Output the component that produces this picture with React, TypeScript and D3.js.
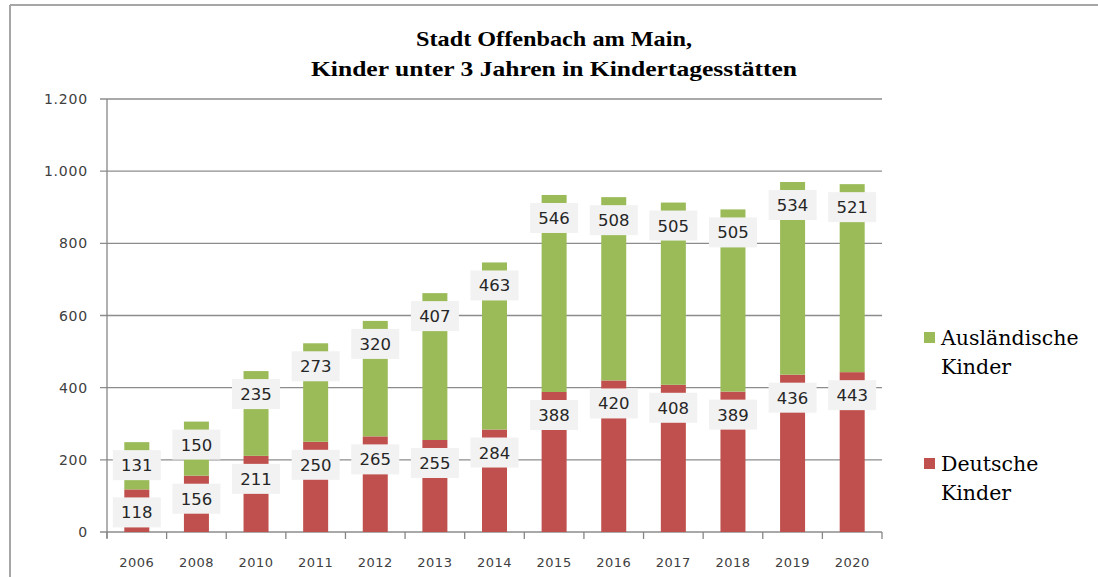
import * as d3 from "d3";

const years = ["2006", "2008", "2010", "2011", "2012", "2013", "2014", "2015", "2016", "2017", "2018", "2019", "2020"];
const deutsche = [118, 156, 211, 250, 265, 255, 284, 388, 420, 408, 389, 436, 443];
const auslaendische = [131, 150, 235, 273, 320, 407, 463, 546, 508, 505, 505, 534, 521];
const yTicks = [0, 200, 400, 600, 800, 1000, 1200];
const titleLines = ["Stadt Offenbach am Main,", "Kinder unter 3 Jahren in Kindertagesstätten"];

const RED = "#c0504d";
const GREEN = "#9bbb59";

export default function App() {
  const width = 1098;
  const height = 577;
  const left = 107;
  const right = 882;
  const top = 99;
  const bottom = 532;

  const x = d3.scaleBand<string>().domain(years).range([left, right]).paddingInner(0).paddingOuter(0);
  const y = d3.scaleLinear().domain([0, 1200]).range([bottom, top]);
  const fmt = (v: number) => d3.format(",")(v).replace(/,/g, ".");
  const barW = 25;

  const stacked = years.map((yr, i) => ({
    yr,
    segs: [
      { key: "d", v0: 0, v1: deutsche[i], val: deutsche[i], color: RED },
      { key: "a", v0: deutsche[i], v1: deutsche[i] + auslaendische[i], val: auslaendische[i], color: GREEN },
    ],
  }));

  const boundaries = [...years.map((yr) => x(yr)!), right];

  return (
    <svg width={width} height={height} style={{ display: "block", position: "absolute", left: 0, top: 0 }}>
      <rect x={0} y={0} width={width} height={height} fill="#fff" />
      {/* frame */}
      <line x1={10} x2={width} y1={5} y2={5} stroke="#a6a6a6" strokeWidth={2} />
      <line x1={10} x2={10} y1={5} y2={height} stroke="#a6a6a6" strokeWidth={2} />

      {/* title */}
      {titleLines.map((t, i) => (
        <text key={t} x={554} y={46 + i * 30} textAnchor="middle" fontFamily="Liberation Serif" fontWeight="bold"
          fontSize={22} fill="#000" textLength={i === 0 ? 276 : 486} lengthAdjust="spacingAndGlyphs">{t}</text>
      ))}

      {/* grid + y ticks */}
      {yTicks.map((t) => (
        <g key={t}>
          <line x1={100} x2={right} y1={y(t)} y2={y(t)} stroke="#8c8c8c" strokeWidth={1.3} />
          <text x={88} y={y(t) + 5} textAnchor="end" fontFamily="DejaVu Sans" fontSize={14} letterSpacing={0.8} fill="#404040">{fmt(t)}</text>
        </g>
      ))}
      <line x1={left} x2={left} y1={top} y2={bottom + 6} stroke="#868686" strokeWidth={1.3} />
      {boundaries.map((b, i) => (
        <line key={i} x1={b} x2={b} y1={bottom} y2={bottom + 7} stroke="#868686" strokeWidth={1.3} />
      ))}

      {/* x labels */}
      {years.map((yr) => (
        <text key={yr} x={x(yr)! + x.bandwidth() / 2} y={567} textAnchor="middle" fontFamily="DejaVu Sans" fontSize={13} letterSpacing={0.5} fill="#404040">{yr}</text>
      ))}

      {/* bars */}
      {stacked.map((s) => (
        <g key={s.yr}>
          {s.segs.map((seg) => (
            <rect key={seg.key} x={x(s.yr)! + x.bandwidth() / 2 - barW / 2} width={barW}
              y={y(seg.v1)} height={y(seg.v0) - y(seg.v1)} fill={seg.color} />
          ))}
        </g>
      ))}

      {/* data labels */}
      {stacked.map((s) => (
        <g key={s.yr}>
          {s.segs.map((seg) => {
            const cx = x(s.yr)! + x.bandwidth() / 2;
            const cy = y(seg.v1) + 23;
            return (
              <g key={seg.key}>
                <rect x={cx - 24} y={cy - 15} width={48} height={30} fill="#f2f2f2" />
                <text x={cx} y={cy + 6} textAnchor="middle" fontFamily="DejaVu Sans" fontSize={16.5} fill="#262626">{seg.val}</text>
              </g>
            );
          })}
        </g>
      ))}

      {/* legend */}
      <rect x={924} y={332} width={11} height={11} fill={GREEN} />
      <text x={941} y={345} fontFamily="DejaVu Serif" fontSize={20.5} fill="#000">Ausländische</text>
      <text x={941} y={374} fontFamily="DejaVu Serif" fontSize={20.5} fill="#000">Kinder</text>
      <rect x={924} y={458} width={11} height={11} fill={RED} />
      <text x={941} y={471} fontFamily="DejaVu Serif" fontSize={20.5} fill="#000">Deutsche</text>
      <text x={941} y={500} fontFamily="DejaVu Serif" fontSize={20.5} fill="#000">Kinder</text>
    </svg>
  );
}
